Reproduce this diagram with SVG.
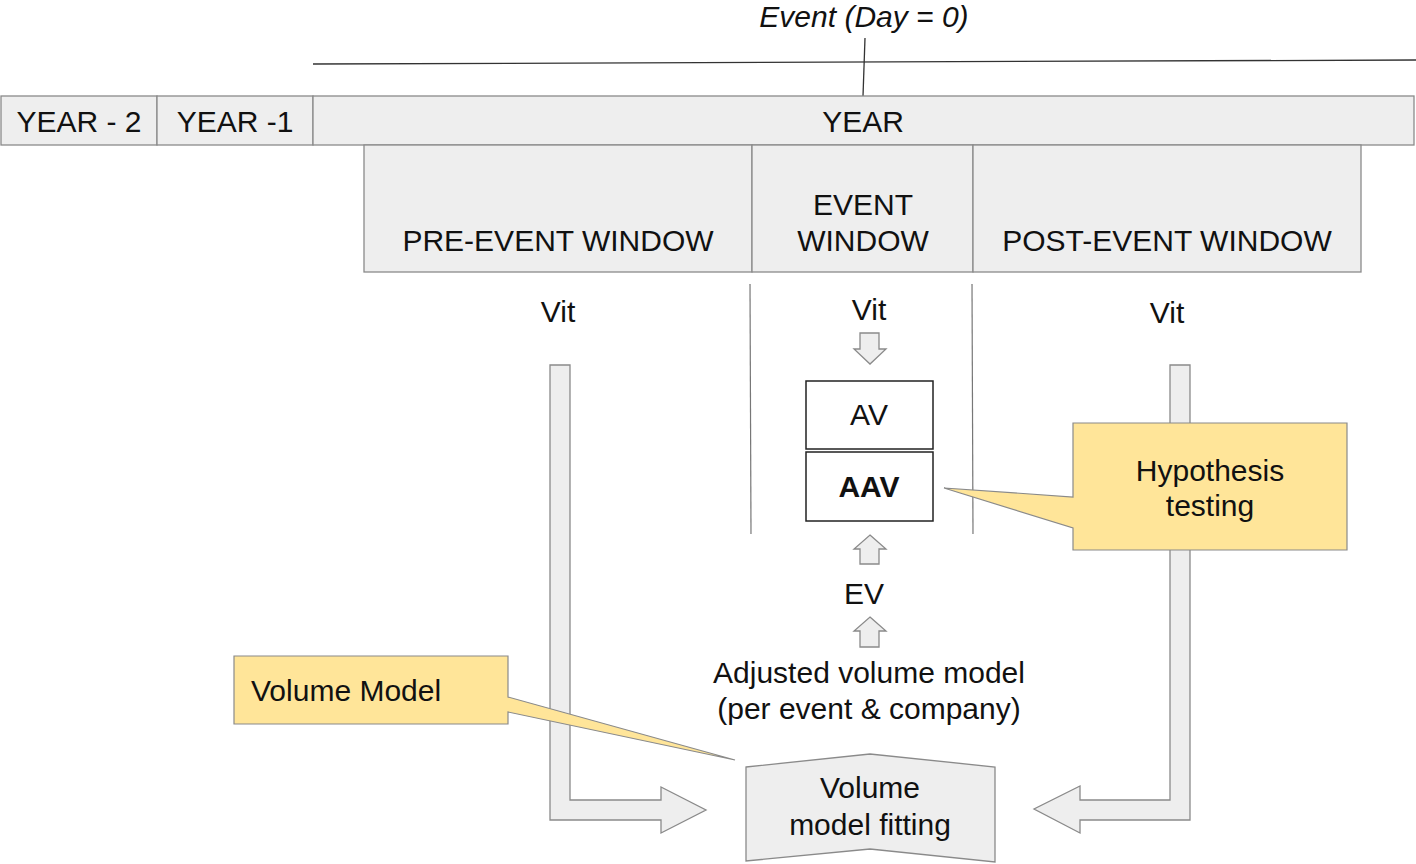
<svg xmlns="http://www.w3.org/2000/svg" width="1416" height="864" viewBox="0 0 1416 864">
<style>
.box{fill:#eeeeee;stroke:#8a8a8a;stroke-width:1.3}
.wbox{fill:#ffffff;stroke:#222;stroke-width:1.5}
.call{fill:#ffe599;stroke:#8a8a8a;stroke-width:1.2}
.arr{fill:#eeeeee;stroke:#8a8a8a;stroke-width:1.3}
.ln{stroke:#333;stroke-width:1.3;fill:none}
.gl{stroke:#777;stroke-width:1.2;fill:none}
text{font-family:"Liberation Sans",Arial,sans-serif;font-size:30px;fill:#111}
.c{text-anchor:middle}
</style>
<rect width="1416" height="864" fill="#ffffff"/>
<g id="timeline">
<line class="ln" x1="313" y1="64" x2="1416" y2="60"/>
<line class="ln" x1="865" y1="38" x2="863" y2="96"/>
<text class="c" x="864" y="27" font-style="italic" font-size="24">Event (Day = 0)</text>
</g>
<g id="year-2"><rect class="box" x="1" y="96" width="156" height="49"/><text class="c" x="79" y="132">YEAR - 2</text></g>
<g id="year-1"><rect class="box" x="157" y="96" width="156" height="49"/><text class="c" x="235" y="132">YEAR -1</text></g>
<g id="year"><rect class="box" x="313" y="96" width="1101" height="49"/><text class="c" x="863" y="132">YEAR</text></g>
<g id="pre-event"><rect class="box" x="364" y="145" width="388" height="127"/><text class="c" x="558" y="251">PRE-EVENT WINDOW</text></g>
<g id="event-window"><rect class="box" x="752" y="145" width="221" height="127"/><text class="c" x="863" y="215">EVENT</text><text class="c" x="863" y="251">WINDOW</text></g>
<g id="post-event"><rect class="box" x="973" y="145" width="388" height="127"/><text class="c" x="1167" y="251">POST-EVENT WINDOW</text></g>
<g id="dividers">
<line class="gl" x1="750" y1="284" x2="751" y2="534"/>
<line class="gl" x1="972" y1="284" x2="973" y2="534"/>
</g>
<g id="vit-labels">
<text class="c" x="558" y="322">Vit</text>
<text class="c" x="869" y="320">Vit</text>
<text class="c" x="1167" y="323">Vit</text>
</g>
<g id="connectors">
<path class="arr" d="M860,333 H879 V349 H886 L870,364 L854,349 H860 Z"/>
<path class="arr" d="M870,535 L886,549 H879 V564 H860 V549 H854 Z"/>
<path class="arr" d="M870,617 L886,631 H879 V647 H860 V631 H854 Z"/>
<path class="arr" d="M550,365 H570 V800 H661 V787 L706,810 L661,833 V820 H550 Z"/>
<path class="arr" d="M1190,365 H1170 V800 H1080 V786 L1034,809 L1080,833 V820 H1190 Z"/>
</g>
<g id="av"><rect class="wbox" x="806" y="381" width="127" height="68"/><text class="c" x="869" y="425">AV</text></g>
<g id="aav"><rect class="wbox" x="806" y="452" width="127" height="69"/><text class="c" x="869" y="497" font-weight="bold">AAV</text></g>
<g id="ev"><text class="c" x="864" y="604">EV</text></g>
<g id="adjusted"><text class="c" x="869" y="683">Adjusted volume model</text><text class="c" x="869" y="719">(per event &amp; company)</text></g>
<g id="volume-fitting">
<path class="box" d="M746,767 L870,754 L995,767 V862 L870,849 L746,861 Z"/>
<text class="c" x="870" y="798">Volume</text>
<text class="c" x="870" y="835">model fitting</text>
</g>
<g id="hypothesis">
<path class="call" d="M1073,423 H1347 V550 H1073 V528 L944,488 L1073,497 Z"/>
<text class="c" x="1210" y="481">Hypothesis</text>
<text class="c" x="1210" y="516">testing</text>
</g>
<g id="volume-model">
<path class="call" d="M234,656 H508 V697 L735,760 L508,712 V724 H234 Z"/>
<text x="251" y="701">Volume Model</text>
</g>
</svg>
